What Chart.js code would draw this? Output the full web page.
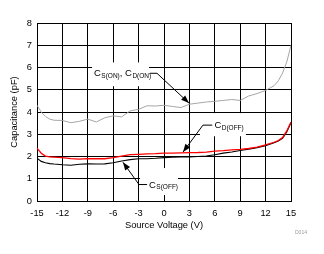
<!DOCTYPE html>
<html><head><meta charset="utf-8">
<script src="https://cdn.jsdelivr.net/npm/chart.js@4"></script>
<style>html,body{margin:0;padding:0;background:#fff}#w{width:324px;height:254px}</style>
</head><body><div id="w"><canvas id="c" width="324" height="254"></canvas></div>
<script>
const voltages = [-15,-14.5,-14,-13.5,-13,-12,-11,-10,-9,-8,-7,-6,-5,-4,-3,-2,-1,0,1,2,3,4,5,6,7,8,9,10,11,12,13,13.5,14,14.5,15];
const cOn   = [4.3,4.0,3.8,3.68,3.63,3.62,3.52,3.58,3.68,3.55,3.74,3.83,3.78,4.05,4.12,4.28,4.27,4.3,4.25,4.2,4.35,4.4,4.45,4.48,4.52,4.56,4.52,4.72,4.83,4.97,5.18,5.4,5.75,6.25,7.0];
const cDoff = [2.38,2.15,2.02,1.98,1.97,1.95,1.9,1.88,1.9,1.9,1.9,1.95,2.02,2.08,2.1,2.12,2.13,2.15,2.15,2.16,2.17,2.18,2.2,2.24,2.26,2.3,2.32,2.36,2.42,2.52,2.64,2.72,2.85,3.15,3.55];
const cSoff = [1.93,1.78,1.72,1.68,1.66,1.63,1.61,1.65,1.67,1.66,1.67,1.72,1.8,1.86,1.9,1.9,1.92,1.95,1.97,1.98,1.98,2.0,2.02,2.08,2.15,2.2,2.27,2.33,2.4,2.48,2.62,2.7,2.82,3.1,3.52];
const xTicks = [-15,-12,-9,-6,-3,0,3,6,9,12,15];
const yTicks = [0,1,2,3,4,5,6,7,8];

const pts = ys => voltages.map((v,i)=>({x:v,y:ys[i]}));

const labels = [
  {parts:[['C','S(ON)'],[', C','D(ON)']], at:[-8.27,5.74], box:[-8.5,6.23,-1.77,5.16],
   leader:[[-1.65,5.74],[-0.83,5.74],[2.95,4.4]]},
  {parts:[['C','D(OFF)']], at:[5.95,3.39], box:[4.25,3.95,9.68,2.91],
   leader:[[5.7,3.41],[4.6,3.41],[2.25,2.2]]},
  {parts:[['C','S(OFF)']], at:[-1.77,0.72], box:[-2.83,1.48,1.65,0.27],
   leader:[[-2.0,0.74],[-2.95,0.74],[-4.85,1.74]]}
];

const FONT = '"Liberation Sans", Arial, sans-serif';

const annot = {
  id:'annot',
  beforeDatasetsDraw(chart){
    const ctx = chart.ctx, xs = chart.scales.x, ys = chart.scales.y;
    const X = v=>xs.getPixelForValue(v), Y = v=>ys.getPixelForValue(v);
    ctx.save();
    labels.forEach(l=>{
      ctx.fillStyle='#fff';
      const x0=X(l.box[0]), y0=Y(l.box[1]), x1=X(l.box[2]), y1=Y(l.box[3]);
      ctx.fillRect(x0,y0,x1-x0,y1-y0);
    });
    labels.forEach(l=>{
      let x = X(l.at[0]); const y = Y(l.at[1]);
      ctx.fillStyle='#000'; ctx.textBaseline='middle'; ctx.textAlign='left';
      l.parts.forEach(p=>{
        ctx.font = '9.5px '+FONT;
        ctx.fillText(p[0], x, y);
        x += ctx.measureText(p[0]).width + 0.5;
        ctx.font = '6.5px '+FONT;
        ctx.fillText(p[1], x, y+2.5);
        x += ctx.measureText(p[1]).width;
      });
      const L = l.leader.map(q=>[X(q[0]),Y(q[1])]);
      ctx.strokeStyle='#000'; ctx.lineWidth=1;
      ctx.beginPath(); ctx.moveTo(L[0][0],L[0][1]);
      for(let i=1;i<L.length;i++) ctx.lineTo(L[i][0],L[i][1]);
      ctx.stroke();
      const a=L[L.length-2], b=L[L.length-1];
      const ang=Math.atan2(b[1]-a[1],b[0]-a[0]);
      const len=8, wid=3;
      ctx.beginPath();
      ctx.moveTo(b[0],b[1]);
      ctx.lineTo(b[0]-len*Math.cos(ang)+wid*Math.sin(ang), b[1]-len*Math.sin(ang)-wid*Math.cos(ang));
      ctx.lineTo(b[0]-len*Math.cos(ang)-wid*Math.sin(ang), b[1]-len*Math.sin(ang)+wid*Math.cos(ang));
      ctx.closePath(); ctx.fill();
    });
    ctx.restore();
  },
  afterDraw(chart){
    const ctx=chart.ctx; ctx.save();
    ctx.fillStyle='#9a9a9a'; ctx.font='5px '+FONT; ctx.textAlign='left'; ctx.textBaseline='middle';
    ctx.fillText('D014', 295, 233);
    ctx.restore();
  }
};

new Chart(document.getElementById('c'), {
  type:'line',
  data:{datasets:[
    {label:'CD(OFF)', data:pts(cDoff), borderColor:'#ff0000', borderWidth:1.3, pointRadius:0, tension:0, order:0},
    {label:'CS(OFF)', data:pts(cSoff), borderColor:'#000000', borderWidth:1.1, pointRadius:0, tension:0, order:1},
    {label:'CS(ON), CD(ON)', data:pts(cOn), borderColor:'#a6a6a6', borderWidth:1, pointRadius:0, tension:0, order:2}
  ]},
  plugins:[annot],
  options:{
    responsive:false, animation:false, devicePixelRatio:1,
    layout:{padding:{top:23,right:33,left:8,bottom:20}},
    plugins:{legend:{display:false}, tooltip:{enabled:false}},
    scales:{
      x:{type:'linear', min:-15, max:15,
        afterBuildTicks:s=>{s.ticks=xTicks.map(v=>({value:v}));},
        afterFit:s=>{s.height=33;},
        grid:{color:'#000', lineWidth:1, drawTicks:false},
        border:{color:'#000', width:1},
        ticks:{color:'#000', padding:7, font:{family:FONT,size:9.3}, maxRotation:0, autoSkip:false},
        title:{display:true, text:'Source Voltage (V)', color:'#000', font:{family:FONT,size:9.3}, padding:{top:0,bottom:3}}
      },
      y:{type:'linear', min:0, max:8,
        afterBuildTicks:s=>{s.ticks=yTicks.map(v=>({value:v}));},
        afterFit:s=>{s.width=29;},
        grid:{color:'#000', lineWidth:1, drawTicks:false},
        border:{color:'#000', width:1},
        ticks:{color:'#000', padding:5, font:{family:FONT,size:9.3}, autoSkip:false},
        title:{display:true, text:'Capacitance (pF)', color:'#000', font:{family:FONT,size:9.3}, padding:{top:1,bottom:0}}
      }
    }
  }
});
</script>
</body></html>
